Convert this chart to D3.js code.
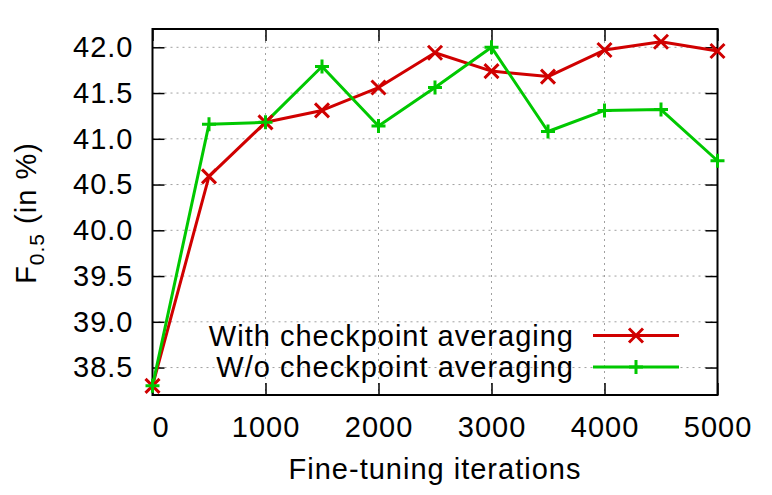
<!DOCTYPE html>
<html><head><meta charset="utf-8">
<script src="https://cdn.jsdelivr.net/npm/d3@7"></script>
<style>body{margin:0;background:#fff}svg{display:block}text{font-family:"Liberation Sans",Arial,sans-serif;fill:#000;letter-spacing:1px}</style>
</head><body><svg id="c" width="772" height="495"></svg>
<script>
const iterations = [0, 500, 1000, 1500, 2000, 2500, 3000, 3500, 4000, 4500, 5000];
const withAvg = [38.30, 40.59, 41.18, 41.31, 41.56, 41.94, 41.74, 41.68, 41.97, 42.06, 41.96];
const withoutAvg = [38.30, 41.16, 41.18, 41.79, 41.14, 41.56, 42.00, 41.08, 41.31, 41.32, 40.76];
const xTicks = [0, 1000, 2000, 3000, 4000, 5000];
const yTicks = [38.5, 39.0, 39.5, 40.0, 40.5, 41.0, 41.5, 42.0];
const seriesNames = ["With checkpoint averaging", "W/o checkpoint averaging"];
const colors = ["#d00000", "#00c800"];

const svg = d3.select("#c");
const L = 152.5, R = 717.5, T = 29, B = 395;
const x = d3.scaleLinear().domain([0, 5000]).range([L, R]);
const y = d3.scaleLinear().domain([38.2, 42.2]).range([B, T]);
const FS = 29;

// grid
const g = svg.append("g");
g.selectAll(".gx").data(xTicks.slice(1, -1)).join("line")
  .attr("x1", d => x(d)).attr("x2", d => x(d)).attr("y1", T).attr("y2", B)
  .attr("stroke", "#a0a0a0").attr("stroke-width", 1).attr("stroke-dasharray", "2,4");
g.selectAll(".gy").data(yTicks).join("line")
  .attr("x1", L).attr("x2", R).attr("y1", d => y(d)).attr("y2", d => y(d))
  .attr("stroke", "#a0a0a0").attr("stroke-width", 1).attr("stroke-dasharray", "2,4");

// axes with inward ticks
const tl = 12;
const axB = svg.append("g").attr("transform", `translate(0,${B})`)
  .call(d3.axisBottom(x).tickValues(xTicks).tickSize(-tl).tickFormat(d3.format("d")));
const axT = svg.append("g").attr("transform", `translate(0,${T})`)
  .call(d3.axisTop(x).tickValues(xTicks).tickSize(-tl).tickFormat(""));
const axL = svg.append("g").attr("transform", `translate(${L},0)`)
  .call(d3.axisLeft(y).tickValues(yTicks).tickSize(-tl).tickFormat(d3.format(".1f")));
const axR = svg.append("g").attr("transform", `translate(${R},0)`)
  .call(d3.axisRight(y).tickValues(yTicks).tickSize(-tl).tickFormat(""));
[axB, axT, axL, axR].forEach(a => {
  a.select(".domain").remove();
  a.selectAll(".tick line").attr("stroke", "#000").attr("stroke-width", 1.5);
  a.selectAll("text").style("font-size", FS + "px").style("font-family", "Liberation Sans, Arial, sans-serif").attr("fill", "#000");
});
axB.selectAll(".tick text").attr("dy", "0.71em").attr("y", 21);
axB.selectAll(".tick").filter(d => d === 0).select("text").attr("dx", 8);
axL.selectAll(".tick text").attr("x", -19);

// frame
svg.append("rect").attr("x", L).attr("y", T).attr("width", R - L).attr("height", B - T)
  .attr("fill", "none").attr("stroke", "#000").attr("stroke-width", 2);

// series
const series = [withAvg, withoutAvg];
const line = d3.line().x((d, i) => x(iterations[i])).y(d => y(d));
const ms = 7;
function marker(sel, type, color) {
  if (type === 0) {
    sel.append("path").attr("d", `M${-ms},${-ms}L${ms},${ms}M${-ms},${ms}L${ms},${-ms}`)
      .attr("stroke", color).attr("stroke-width", 3).attr("fill", "none");
  } else {
    sel.append("path").attr("d", `M${-ms},0L${ms},0M0,${-ms}L0,${ms}`)
      .attr("stroke", color).attr("stroke-width", 3).attr("fill", "none");
  }
}
series.forEach((s, k) => {
  svg.append("path").datum(s).attr("d", line).attr("fill", "none")
    .attr("stroke", colors[k]).attr("stroke-width", 3).attr("stroke-linejoin", "round");
});
series.forEach((s, k) => {
  s.forEach((v, i) => {
    const gm = svg.append("g").attr("transform", `translate(${x(iterations[i])},${y(v)})`);
    marker(gm, k, colors[k]);
  });
});

// legend
const legY = [335.5, 367];
seriesNames.forEach((n, k) => {
  svg.append("text").attr("x", 574).attr("y", legY[k]).attr("dy", "0.35em")
    .attr("text-anchor", "end").style("font-size", FS + "px").text(n);
  svg.append("line").attr("x1", 593).attr("x2", 679).attr("y1", legY[k]).attr("y2", legY[k])
    .attr("stroke", colors[k]).attr("stroke-width", 3);
  const gm = svg.append("g").attr("transform", `translate(636,${legY[k]})`);
  marker(gm, k, colors[k]);
});

// axis labels
svg.append("text").attr("x", 435).attr("y", 479).attr("text-anchor", "middle")
  .style("font-size", FS + "px").text("Fine-tuning iterations");
const yl = svg.append("text").attr("transform", "translate(36,213) rotate(-90)")
  .attr("text-anchor", "middle").style("font-size", FS + "px");
yl.append("tspan").text("F");
yl.append("tspan").attr("dy", 8).style("font-size", "21px").text("0.5");
yl.append("tspan").attr("dy", -8).text(" (in %)");
</script></body></html>
